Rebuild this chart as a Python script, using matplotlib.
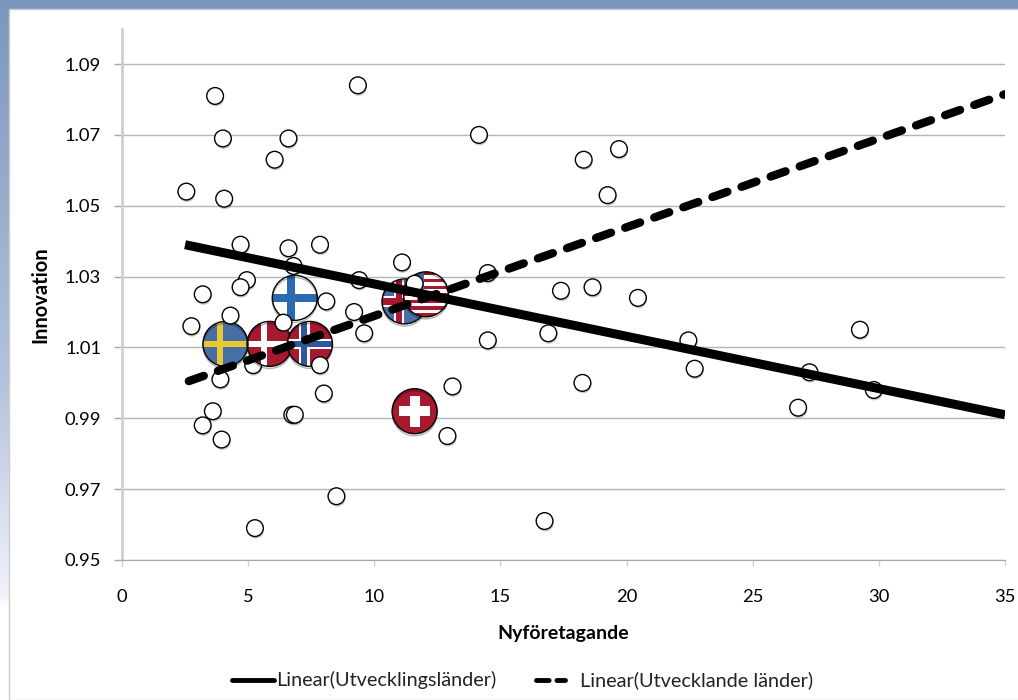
import matplotlib
matplotlib.use("Agg")
import matplotlib.pyplot as plt
import matplotlib.patheffects as pe
import numpy as np
from matplotlib.colors import LinearSegmentedColormap
from matplotlib.lines import Line2D
from matplotlib.patches import Circle, Rectangle
from matplotlib.transforms import Affine2D, ScaledTranslation

plt.rcParams["font.family"] = ["Lato", "DejaVu Sans"]

# points drawn behind the flags
under_x = [5.2, 12.55]
under_y = [1.005, 1.023]

# points drawn on top of the flags
other_x = [3.69, 4.0, 9.35, 6.6, 6.05, 14.15, 18.3, 19.7, 19.25, 2.55, 4.05, 4.7, 6.6, 7.85,
           6.8, 11.1, 4.95, 4.7, 9.4, 14.5, 3.2, 17.4, 18.65, 20.45, 8.1, 4.3, 9.2, 2.75,
           6.4, 9.6, 16.9, 14.5, 22.45, 11.6, 7.85, 3.9, 8.0, 18.25, 22.7, 27.25, 13.1,
           26.8, 29.8, 29.25, 3.6, 6.75, 6.85, 3.2, 3.95, 12.9, 8.5, 5.27, 16.75]
other_y = [1.081, 1.069, 1.084, 1.069, 1.063, 1.070, 1.063, 1.066, 1.053, 1.054, 1.052, 1.039,
           1.038, 1.039, 1.033, 1.034, 1.029, 1.027, 1.029, 1.031, 1.025, 1.026, 1.027, 1.024,
           1.023, 1.019, 1.020, 1.016, 1.017, 1.014, 1.014, 1.012, 1.012, 1.028, 1.005, 1.001,
           0.997, 1.000, 1.004, 1.003, 0.999, 0.993, 0.998, 1.015, 0.992, 0.991, 0.991, 0.988,
           0.984, 0.985, 0.968, 0.959, 0.961]

# flagged countries
flag_names = ["se", "dk", "no", "fi", "is", "us", "ch"]
flag_x = [4.1, 5.85, 7.45, 6.85, 11.2, 12.05, 11.6]
flag_y = [1.011, 1.011, 1.011, 1.024, 1.023, 1.025, 0.992]

# trend lines
solid_x = [2.5, 35]
solid_y = [1.039, 0.991]
dashed_x = [2.65, 35]
dashed_y = [1.0005, 1.0815]

x_ticks = [0, 5, 10, 15, 20, 25, 30, 35]
y_ticks = [0.95, 0.97, 0.99, 1.01, 1.03, 1.05, 1.07, 1.09]

RED = "#a6192e"
BLUE = "#456fa5"
WHITE = "white"


def draw_flag(ax, name, x, y, zorder):
    # flag parts are in unit-circle coordinates, scaled to 22 px around the data point
    trans = Affine2D().scale(22.5) + ScaledTranslation(x, y, ax.transData)
    clip = Circle((0, 0), 1, transform=trans, facecolor="white", edgecolor="none", zorder=zorder)
    ax.add_patch(clip)

    def rect(x0, y0, w, h, color):
        r = Rectangle((x0, y0), w, h, transform=trans, facecolor=color, edgecolor="none",
                      zorder=zorder + 0.1)
        ax.add_patch(r)
        r.set_clip_path(clip)

    def nordic(bg, outer, inner, cx=-0.25):
        rect(-1, -1, 2, 2, bg)
        if outer:
            rect(cx - 0.24, -1, 0.48, 2, outer)
            rect(-1, -0.24, 2, 0.48, outer)
        rect(cx - 0.14, -1, 0.28, 2, inner)
        rect(-1, -0.14, 2, 0.28, inner)

    if name == "se":
        nordic(BLUE, None, "#e8c934")
    elif name == "dk":
        nordic(RED, None, WHITE)
    elif name == "no":
        nordic(RED, WHITE, "#30569c")
    elif name == "fi":
        rect(-1, -1, 2, 2, WHITE)
        rect(-0.36, -1, 0.36, 2, "#2a6ab0")
        rect(-1, -0.18, 2, 0.36, "#2a6ab0")
    elif name == "is":
        nordic(BLUE, WHITE, RED)
    elif name == "us":
        rect(-1, -1, 2, 2, WHITE)
        for k in range(7):
            rect(-1, -1 + k * 2 / 6.5, 2, 1 / 6.5, RED)
        rect(-1, 0.05, 0.9, 1, BLUE)
    elif name == "ch":
        rect(-1, -1, 2, 2, RED)
        rect(-0.22, -0.68, 0.44, 1.36, WHITE)
        rect(-0.68, -0.22, 1.36, 0.44, WHITE)

    ring = Circle((0, 0), 1, transform=trans, facecolor="none", edgecolor="black", linewidth=1.0,
                  zorder=zorder + 0.2,
                  path_effects=[pe.SimpleLineShadow(offset=(0, -1.5), alpha=0.3), pe.Normal()])
    ax.add_patch(ring)


fig = plt.figure(figsize=(10.18, 7.0), dpi=100)
W, H = 1018, 700

# slide background: blue frame at top and left, fading out near the bottom
bg = fig.add_axes([0, 0, 1, 1], zorder=-1)
grad = np.linspace(0, 1, 256).reshape(-1, 1)
cmap = LinearSegmentedColormap.from_list(
    "frame", [(0, "#7b96bd"), (0.55, "#b4c3dc"), (0.85, "#f0f2fa"), (0.87, "white"), (1, "white")])
bg.imshow(grad, extent=(0, 1, 0, 1), aspect="auto", origin="upper", cmap=cmap)
bg.add_patch(Rectangle((9 / W, 0), 1, 1 - 9 / H, facecolor="white", edgecolor="#cccccc", lw=1))
bg.set_xlim(0, 1)
bg.set_ylim(0, 1)
bg.axis("off")

ax = fig.add_axes([122 / W, (H - 560) / H, (1005 - 122) / W, (560 - 29) / H])
ax.patch.set_alpha(0)
ax.set_xlim(0, 35)
ax.set_ylim(0.95, 1.0999)

ax.set_xticks(x_ticks)
ax.set_yticks(y_ticks)
ax.set_yticklabels([f"{v:.2f}" for v in y_ticks])
ax.tick_params(axis="y", labelsize=13.2, color="#a6a6a6", length=6, width=1, pad=9)
ax.tick_params(axis="x", labelsize=13.2, color="#cfcfcf", length=4, width=1, pad=17)
ax.grid(axis="y", color="#b5b5b5", linewidth=1)
ax.set_axisbelow(True)

for s in ["top", "right"]:
    ax.spines[s].set_visible(False)
ax.spines["left"].set_color("#cfcfcf")
ax.spines["left"].set_linewidth(2)
ax.spines["bottom"].set_color("#a6a6a6")

shadow = [pe.SimplePatchShadow(offset=(0.5, -1.5), alpha=0.3), pe.Normal()]
ax.scatter(under_x, under_y, s=145, facecolor="white", edgecolor="black", linewidth=1,
           zorder=3, path_effects=shadow)
for name, x, y, z in zip(flag_names, flag_x, flag_y, [4, 4, 4.4, 4, 4, 4.4, 4]):
    draw_flag(ax, name, x, y, z)
ax.scatter(other_x, other_y, s=145, facecolor="white", edgecolor="black", linewidth=1,
           zorder=5, path_effects=shadow)

ax.plot(solid_x, solid_y, color="black", linewidth=6.5, solid_capstyle="butt", zorder=6)
ax.plot(dashed_x, dashed_y, color="black", linewidth=6, dashes=(1.9, 1.8),
        dash_capstyle="round", zorder=6)

ax.set_xlabel("Nyföretagande", fontsize=14, fontweight="bold", labelpad=14.5)
ax.set_ylabel("Innovation", fontsize=14.5, fontweight="bold", labelpad=10)

# hand-placed legend, same layout as the original
fig.add_artist(Line2D([232 / W, 274 / W], [1 - 680 / H] * 2, color="black", linewidth=3.5,
                      solid_capstyle="round"))
fig.text(276 / W, 1 - 680 / H, "Linear(Utvecklingsländer)", fontsize=14.3, va="center",
         color="#222222")
fig.add_artist(Line2D([536 / W, 565 / W], [1 - 680 / H] * 2, color="black", linewidth=3.5,
                      dashes=(2.6, 1.6), dash_capstyle="round"))
fig.text(580 / W, 1 - 680 / H, "Linear(Utvecklande länder)", fontsize=14.3, va="center",
         color="#222222")

fig.savefig("out.png", dpi=100)
